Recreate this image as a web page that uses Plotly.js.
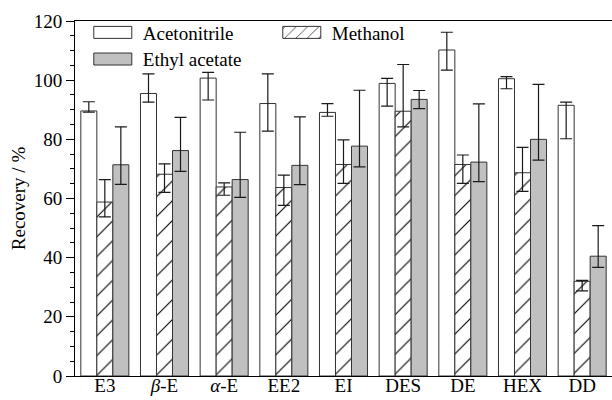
<!DOCTYPE html>
<html>
<head>
<meta charset="utf-8">
<script src="https://cdn.plot.ly/plotly-3.0.1.min.js"></script>
<style>html,body{margin:0;padding:0;background:#fff;}#chart{width:612px;height:400px;}</style>
</head>
<body>
<div id="chart"></div>
<script>
const categories = ['E3', 'β-E', 'α-E', 'EE2', 'EI', 'DES', 'DE', 'HEX', 'DD'];
const tickLabels = ['E3', '<i>β</i>-E', '<i>α</i>-E', 'EE2', 'EI', 'DES', 'DE', 'HEX', 'DD'];

const acetonitrile = [89.6, 95.5, 100.7, 92.1, 89.1, 98.9, 110.2, 100.5, 91.5];
const acetonitrilePlus = [3.1, 6.6, 1.9, 10.0, 3.0, 1.7, 6.0, 0.7, 1.1];
const acetonitrileMinus = [0.4, 2.9, 7.4, 9.3, 1.3, 7.7, 6.8, 3.4, 11.3];

const methanol = [58.8, 68.2, 63.9, 63.7, 71.5, 89.5, 71.5, 68.7, 32.0];
const methanolPlus = [7.6, 3.5, 1.4, 4.2, 8.3, 15.8, 3.2, 8.6, 0.3];
const methanolMinus = [5.0, 6.1, 2.8, 6.0, 6.4, 5.3, 6.4, 6.3, 3.2];

const ethylAcetate = [71.4, 76.2, 66.4, 71.2, 77.7, 93.5, 72.3, 80.0, 40.5];
const ethylAcetatePlus = [12.8, 11.2, 16.0, 16.4, 18.9, 3.0, 19.7, 18.6, 10.3];
const ethylAcetateMinus = [6.6, 7.0, 6.0, 6.5, 7.0, 3.1, 6.6, 7.0, 3.8];

const FONT = 'Liberation Serif, Times New Roman, serif';
const lineCol = '#333333';
const errStyle = (plus, minus) => ({
  type: 'data', symmetric: false, array: plus, arrayminus: minus,
  color: '#1a1a1a', thickness: 1.2, width: 6
});

const traces = [
  {
    type: 'bar', name: 'Acetonitrile', x: categories, y: acetonitrile,
    marker: {color: '#ffffff', line: {color: lineCol, width: 1}},
    error_y: errStyle(acetonitrilePlus, acetonitrileMinus),
    legend: 'legend'
  },
  {
    type: 'bar', name: 'Methanol', x: categories, y: methanol,
    marker: {color: '#ffffff', line: {color: lineCol, width: 1},
      pattern: {shape: '/', size: 14, solidity: 0.08, fgcolor: '#000000', bgcolor: '#ffffff', fillmode: 'replace'}},
    error_y: errStyle(methanolPlus, methanolMinus),
    legend: 'legend'
  },
  {
    type: 'bar', name: 'Ethyl acetate', x: categories, y: ethylAcetate,
    marker: {color: '#c0c0c0', line: {color: lineCol, width: 1}},
    error_y: errStyle(ethylAcetatePlus, ethylAcetateMinus),
    legend: 'legend2'
  }
];

const legendBase = {
  orientation: 'h', xanchor: 'left', yanchor: 'top',
  bgcolor: 'rgba(0,0,0,0)', borderwidth: 0,
  font: {family: FONT, size: 19, color: '#000'},
  itemwidth: 50, entrywidth: 124, tracegroupgap: 0
};

const layout = {
  width: 612, height: 400,
  margin: {l: 75, r: 0, t: 21, b: 24},
  paper_bgcolor: '#ffffff', plot_bgcolor: '#ffffff',
  font: {family: FONT, size: 19, color: '#000'},
  barmode: 'group', bargap: 0.195, bargroupgap: 0,
  showlegend: true,
  legend: Object.assign({}, legendBase, {x: 0.0145, y: 1.021}),
  legend2: Object.assign({}, legendBase, {x: 0.0145, y: 0.946}),
  xaxis: {
    type: 'category', range: [-0.5, 8.5],
    tickmode: 'array', tickvals: categories, ticktext: tickLabels,
    showline: true, linecolor: '#000', linewidth: 1, mirror: true,
    ticks: '', showgrid: false, zeroline: false, ticklabelstandoff: -8,
    tickfont: {family: FONT, size: 19, color: '#000'}
  },
  yaxis: {
    range: [0, 120], dtick: 20, tick0: 0,
    ticks: 'outside', ticklen: 8, tickwidth: 1, tickcolor: '#000',
    showline: true, linecolor: '#000', linewidth: 1, mirror: false,
    showgrid: false, zeroline: false,
    tickfont: {family: FONT, size: 19, color: '#000'},
    minor: {dtick: 5, ticks: 'outside', ticklen: 4, tickwidth: 1, tickcolor: '#000', showgrid: false},
    title: {text: 'Recovery / %', font: {family: FONT, size: 19, color: '#000'}, standoff: 3}
  }
};

Plotly.newPlot('chart', traces, layout, {displayModeBar: false, staticPlot: true}).then(function(gd){
  // widen legend swatches to rectangles like the original
  gd.querySelectorAll('.legendpoints path').forEach(function(p){
    p.setAttribute('d', 'M-19,-6H19V6H-19Z');
  });
});
</script>
</body>
</html>
